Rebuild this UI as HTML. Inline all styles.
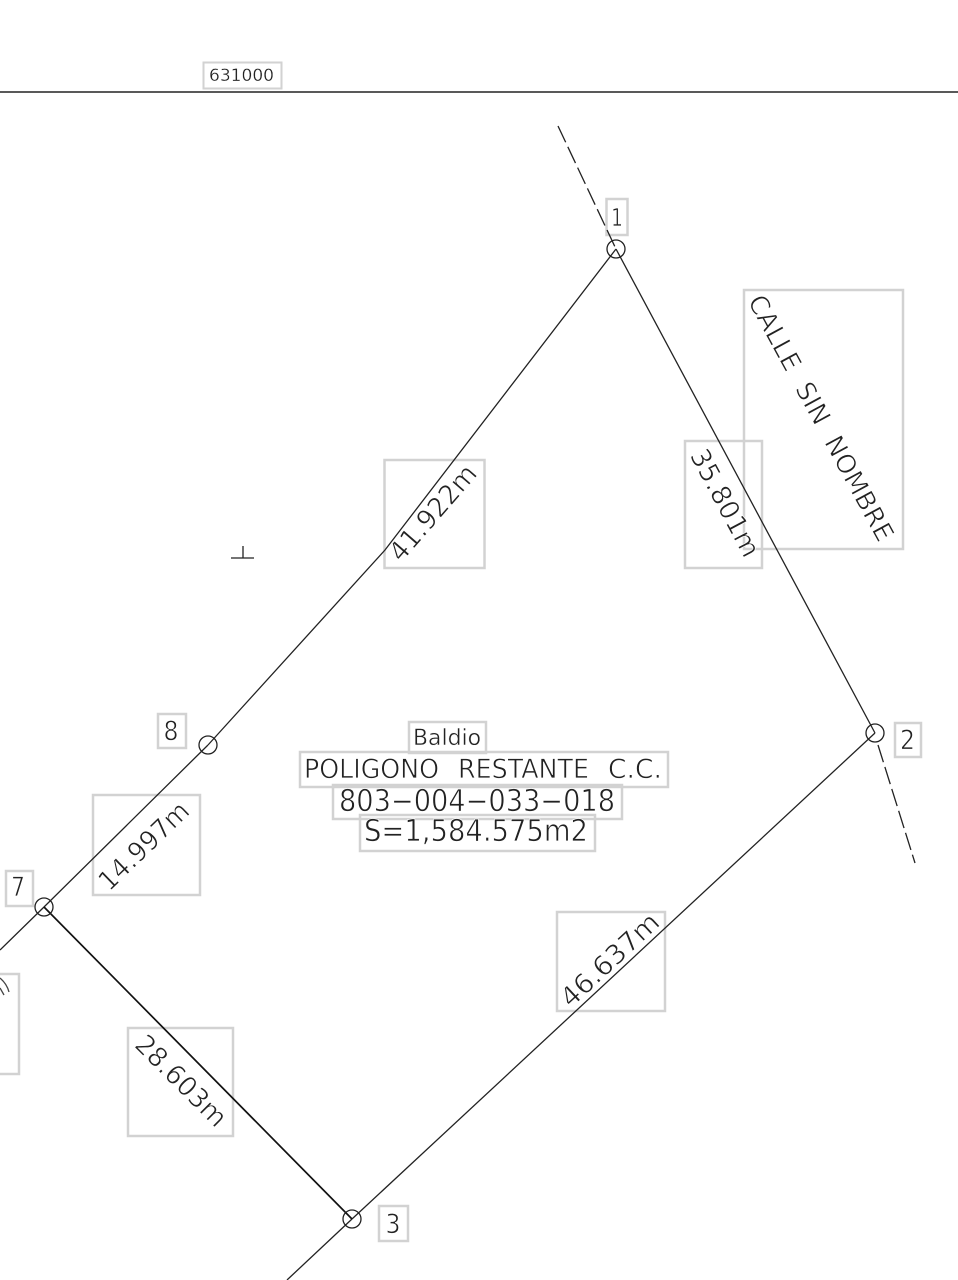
<!DOCTYPE html>
<html>
<head>
<meta charset="utf-8">
<style>
html,body{margin:0;padding:0;background:#fff;width:958px;height:1280px;overflow:hidden}
svg{display:block}
text{font-family:"DejaVu Sans","Liberation Sans",sans-serif;font-weight:400;fill:#222;stroke:#fff;stroke-width:.7px;text-anchor:middle}
.b{fill:none;stroke:#d2d2d2;stroke-width:2.5}
.l{fill:none;stroke:#222;stroke-width:1.3}
</style>
</head>
<body>
<svg width="958" height="1280" viewBox="0 0 958 1280" xmlns="http://www.w3.org/2000/svg">
<rect width="958" height="1280" fill="#fff"/>
<!-- label boxes -->
<rect class="b" x="203.500" y="62.500" width="78" height="26" style="stroke-width:2"/>
<rect class="b" x="606.500" y="199" width="21" height="36"/>
<rect class="b" x="744" y="290" width="159" height="259"/>
<rect class="b" x="685" y="441" width="77" height="127"/>
<rect class="b" x="384.500" y="460" width="100" height="108"/>
<rect class="b" x="158" y="714" width="28" height="34"/>
<rect class="b" x="895" y="723" width="26" height="34"/>
<rect class="b" x="409" y="722" width="77" height="31"/>
<rect class="b" x="300" y="752" width="368" height="35"/>
<rect class="b" x="333" y="785" width="289" height="34"/>
<rect class="b" x="360" y="815" width="235" height="36"/>
<rect class="b" x="93" y="795" width="107" height="100"/>
<rect class="b" x="6" y="871" width="27" height="35"/>
<rect class="b" x="557" y="912" width="108" height="99"/>
<rect class="b" x="-5" y="974" width="24" height="100"/>
<rect class="b" x="128" y="1028" width="105" height="108"/>
<rect class="b" x="379" y="1206" width="29" height="35"/>
<!-- lines -->
<line class="l" x1="0" y1="92" x2="958" y2="92" style="stroke-width:1.5"/>
<polyline class="l" points="616,249 385,550 208,745"/>
<polyline class="l" points="208,745 44,907 0,950"/>
<line class="l" x1="616" y1="249" x2="875" y2="733"/>
<line class="l" x1="875" y1="733" x2="352" y2="1219"/>
<line class="l" x1="352" y1="1219" x2="287" y2="1280"/>
<line class="l" x1="44" y1="907" x2="352" y2="1219" style="stroke:#111;stroke-width:1.7"/>
<line class="l" x1="558" y1="126" x2="616" y2="249" stroke-dasharray="18 5"/>
<line class="l" x1="878" y1="745" x2="915" y2="863" stroke-dasharray="18 5"/>
<path class="l" d="M231 558H254M243 546V558"/>
<!-- vertices -->
<circle class="l" cx="616" cy="249" r="9"/>
<circle class="l" cx="875" cy="733" r="9"/>
<circle class="l" cx="352" cy="1219" r="9"/>
<circle class="l" cx="44" cy="907" r="9"/>
<circle class="l" cx="208" cy="745" r="9"/>
<path class="l" d="M0 978Q7 984 9 992M0 988L4 995" style="stroke:#444"/>
<!-- text -->
<text x="241.500" y="81" font-size="17" textLength="65" lengthAdjust="spacingAndGlyphs" style="stroke-width:.3px">631000</text>
<text x="617" y="226" font-size="25" textLength="12" lengthAdjust="spacingAndGlyphs">1</text>
<text x="907.500" y="749" font-size="27" textLength="15" lengthAdjust="spacingAndGlyphs">2</text>
<text x="393" y="1233" font-size="27" textLength="15" lengthAdjust="spacingAndGlyphs">3</text>
<text x="18" y="896" font-size="27" textLength="14" lengthAdjust="spacingAndGlyphs">7</text>
<text x="171" y="740" font-size="27" textLength="15" lengthAdjust="spacingAndGlyphs">8</text>
<text x="447" y="745" font-size="22" textLength="68" lengthAdjust="spacingAndGlyphs" style="stroke-width:.4px">Baldio</text>
<text x="371.500" y="778" font-size="27" textLength="135" lengthAdjust="spacingAndGlyphs">POLIGONO</text>
<text x="523.500" y="778" font-size="27" textLength="131" lengthAdjust="spacingAndGlyphs">RESTANTE</text>
<text x="635" y="778" font-size="27" textLength="54" lengthAdjust="spacingAndGlyphs">C.C.</text>
<text x="477" y="811" font-size="30" textLength="276" lengthAdjust="spacingAndGlyphs">803−004−033−018</text>
<text x="476" y="841" font-size="30" textLength="224" lengthAdjust="spacingAndGlyphs">S=1,584.575m2</text>
<g transform="translate(433 513) rotate(-49)"><text x="0" y="9" font-size="27" textLength="118" lengthAdjust="spacingAndGlyphs">41.922m</text></g>
<g transform="translate(725 503) rotate(62)"><text x="0" y="9" font-size="27" textLength="118" lengthAdjust="spacingAndGlyphs">35.801m</text></g>
<g transform="translate(821 418) rotate(61.500)"><text x="0" y="9" font-size="26" textLength="276" lengthAdjust="spacing" xml:space="preserve">CALLE  SIN  NOMBRE</text></g>
<g transform="translate(144 846) rotate(-44)"><text x="0" y="9" font-size="27" textLength="114" lengthAdjust="spacingAndGlyphs">14.997m</text></g>
<g transform="translate(610 960) rotate(-43)"><text x="0" y="9" font-size="27" textLength="124" lengthAdjust="spacingAndGlyphs">46.637m</text></g>
<g transform="translate(181 1081) rotate(45)"><text x="0" y="9" font-size="27" textLength="117" lengthAdjust="spacingAndGlyphs">28.603m</text></g>
</svg>
</body>
</html>
